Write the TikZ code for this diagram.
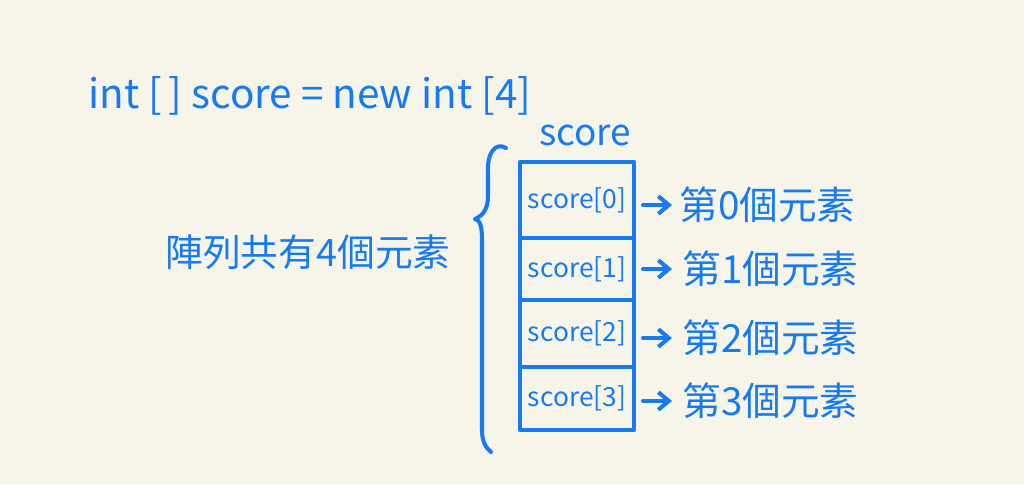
\documentclass[tikz,border=0pt]{standalone}
\usepackage{fontspec}
\setmainfont{Noto Sans CJK TC}
\usetikzlibrary{arrows.meta}
\definecolor{ink}{RGB}{22,122,240}
\definecolor{paper}{RGB}{247,245,234}
\tikzset{
  pen/.style={draw=ink, line width=2.3pt, line cap=round, line join=round},
  cell/.style={pen, minimum width=2.28cm, inner sep=0pt, outer sep=0pt, font=\fontsize{15}{15}\selectfont, text=ink},
  elem/.style={anchor=west, inner sep=0pt, text=ink, font=\fontsize{22}{22}\selectfont},
  ptr/.style={pen, -{Straight Barb[length=6pt,width=10pt]}},
}
\begin{document}
\begin{tikzpicture}[x=0.02cm, y=-0.02cm]
\fill[paper] (0,0) rectangle (1024,484);
\useasboundingbox (0,0) rectangle (1024,484);
% title
\node[anchor=west, inner sep=0pt, text=ink, font=\fontsize{23}{23}\selectfont] (title) at (88,96) {int [\,] score = new int [4]};
% array label
\node[inner sep=0pt, text=ink, font=\fontsize{21}{21}\selectfont] (name) at (585,135) {score};
% cells
\node[cell, minimum height=1.52cm] (c0) at (577,200) {score[0]};
\node[cell, minimum height=1.24cm] (c1) at (577,269) {score[1]};
\node[cell, minimum height=1.34cm] (c2) at (577,333.5) {score[2]};
\node[cell, minimum height=1.26cm] (c3) at (577,398.5) {score[3]};
% element labels
\node[elem] (e0) at (679,205) {第0個元素};
\node[elem] (e1) at (682,269) {第1個元素};
\node[elem] (e2) at (682,338) {第2個元素};
\node[elem] (e3) at (682,401) {第3個元素};
% arrows
\draw[ptr] ([xshift=0.18cm]c0.east |- e0.west) -- ([xshift=-0.14cm]e0.west);
\draw[ptr] ([xshift=0.18cm]c1.east |- e1.west) -- ([xshift=-0.2cm]e1.west);
\draw[ptr] ([xshift=0.18cm]c2.east |- e2.west) -- ([xshift=-0.2cm]e2.west);
\draw[ptr] ([xshift=0.18cm]c3.east |- e3.west) -- ([xshift=-0.2cm]e3.west);
% brace
\coordinate (btop) at (506,148);
\coordinate (btip) at (475,219);
\coordinate (bbot) at (491,452);
\draw[pen] (btop) .. controls (496,142) and (487,152) .. (488,172)
  -- (488,196) .. controls (488,210) and (482,216) .. (btip)
  .. controls (480,220) and (482,226) .. (482,240)
  -- (482,430) .. controls (482,442) and (486,448) .. (bbot);
% summary
\node[anchor=west, inner sep=0pt, text=ink, font=\fontsize{21.5}{21.5}\selectfont] (sum) at (165,252) {陣列共有4個元素};
\end{tikzpicture}
\end{document}
